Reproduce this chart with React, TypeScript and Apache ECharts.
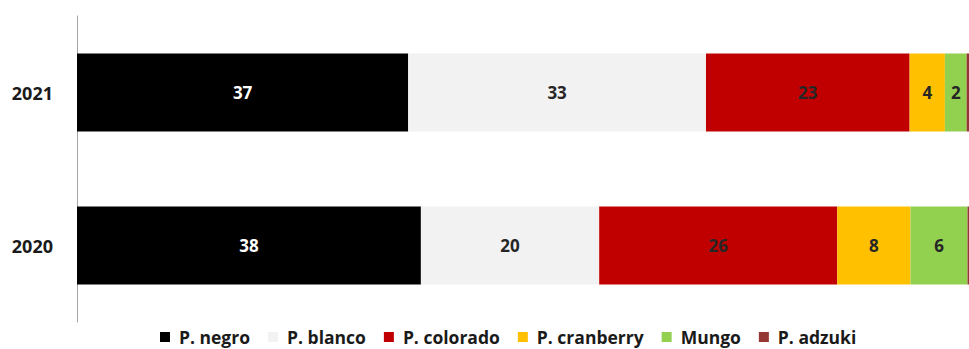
import React, { useEffect, useRef } from "react";
import * as echarts from "echarts";

const categories = ["2020", "2021"];
const seriesNames = ["P. negro", "P. blanco", "P. colorado", "P. cranberry", "Mungo", "P. adzuki"];
const negro = [38.0, 36.6];
const blanco = [19.7, 32.9];
const colorado = [26.3, 22.5];
const cranberry = [8.1, 3.9];
const mungo = [6.3, 2.4];
const adzuki = [1.6, 1.4];
const colors = ["#000000", "#f2f2f2", "#c00000", "#ffc000", "#92d050", "#953735"];
const labelColors = ["#ffffff", "#262626", "#262626", "#262626", "#262626", "#262626"];

export default function App() {
  const ref = useRef<HTMLDivElement>(null);
  useEffect(() => {
    if (!ref.current) return;
    const chart = echarts.init(ref.current, null, { renderer: "svg" });
    const allData = [negro, blanco, colorado, cranberry, mungo, adzuki];
    const font = "'Open Sans', Lato, sans-serif";
    chart.setOption({
      animation: false,
      backgroundColor: "#ffffff",
      grid: { left: 77, width: 905, top: 16, bottom: 27, containLabel: false, outerBoundsMode: "none" },
      legend: {
        bottom: -2,
        left: 155,
        itemWidth: 10,
        itemHeight: 10,
        itemGap: 18,
        icon: "rect",
        textStyle: { fontFamily: font, fontWeight: "bold", fontSize: 17.5, color: "#1a1a1a", padding: [0, 0, 0, 4] },
        data: seriesNames,
      },
      xAxis: {
        type: "value",
        min: 0,
        max: 100,
        show: false,
        splitLine: { show: false },
      },
      yAxis: {
        type: "category",
        data: categories,
        axisLine: { show: true, lineStyle: { color: "#a6a6a6", width: 1 } },
        axisTick: { show: false },
        axisLabel: { fontFamily: font, fontWeight: "bold", fontSize: 18, color: "#1a1a1a", margin: 24 },
      },
      series: seriesNames.map((name, i) => ({
        name,
        type: "bar",
        stack: "total",
        barWidth: 78,
        data: allData[i],
        itemStyle: { color: colors[i] },
        label: {
          show: true,
          position: "inside",
          fontFamily: font,
          fontWeight: "bold",
          fontSize: 17,
          color: labelColors[i],
          formatter: (p: any) => String(Math.round(p.value)),
        },
      })),
    });
    return () => chart.dispose();
  }, []);
  return (
    <div
      ref={ref}
      style={{ position: "fixed", left: 0, top: 0, width: 969, height: 349 }}
    />
  );
}
